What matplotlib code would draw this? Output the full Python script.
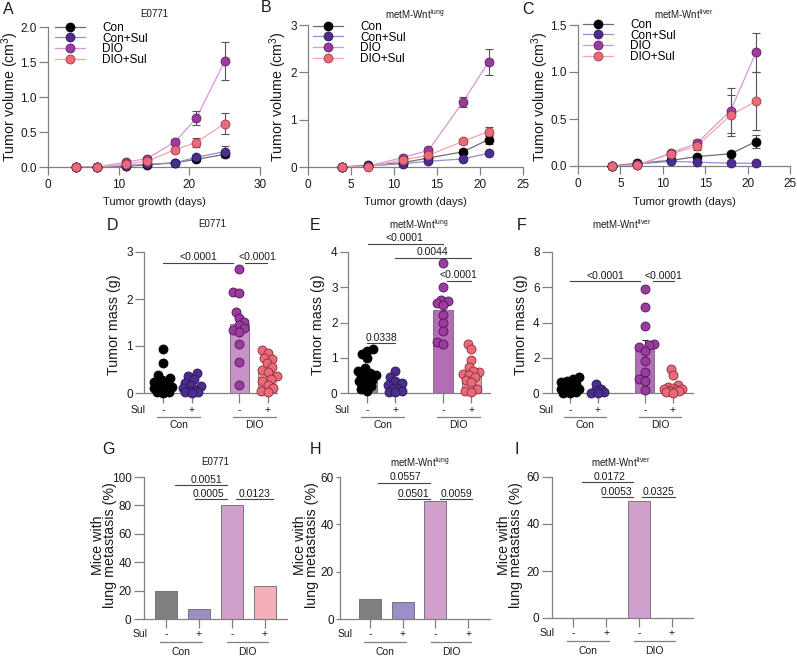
import numpy as np
import matplotlib
matplotlib.use("Agg")
import matplotlib.pyplot as plt
from matplotlib.lines import Line2D

plt.rcParams['font.family'] = ['Liberation Sans', 'DejaVu Sans']
plt.rcParams['mathtext.default'] = 'regular'

# ---------------- data ----------------
series_names = ['Con', 'Con+Sul', 'DIO', 'DIO+Sul']
groups = ['Con', 'DIO']
sul_signs = ['-', '+', '-', '+']

# A: E0771 tumour growth (cm3)
days_a = [4, 7, 11, 14, 18, 21, 25]
a_con = [0.0, 0.0, 0.01, 0.03, 0.06, 0.11, 0.18]
a_consul = [0.0, 0.0, 0.02, 0.04, 0.06, 0.14, 0.22]
a_dio = [0.0, 0.0, 0.07, 0.12, 0.36, 0.70, 1.51]
a_diosul = [0.0, 0.0, 0.04, 0.08, 0.25, 0.35, 0.62]
a_con_err = [0, 0, 0.005, 0.01, 0.01, 0.02, 0.03]
a_consul_err = [0, 0, 0.01, 0.01, 0.01, 0.03, 0.08]
a_dio_err = [0, 0, 0.02, 0.03, 0.04, 0.10, 0.27]
a_diosul_err = [0, 0, 0.01, 0.02, 0.04, 0.07, 0.15]

# B: metM-Wnt lung tumour growth
days_b = [4, 7, 11, 14, 18, 21]
b_con = [0.0, 0.04, 0.09, 0.19, 0.32, 0.58]
b_consul = [0.0, 0.02, 0.07, 0.12, 0.17, 0.29]
b_dio = [0.0, 0.02, 0.20, 0.35, 1.37, 2.22]
b_diosul = [0.0, 0.01, 0.15, 0.25, 0.54, 0.75]
b_con_err = [0, 0.01, 0.02, 0.03, 0.05, 0.10]
b_consul_err = [0, 0.01, 0.01, 0.02, 0.03, 0.04]
b_dio_err = [0, 0.01, 0.03, 0.05, 0.10, 0.28]
b_diosul_err = [0, 0.01, 0.02, 0.04, 0.06, 0.10]

# C: metM-Wnt liver tumour growth
days_c = [4, 7, 11, 14, 18, 21]
c_con = [0.0, 0.03, 0.06, 0.10, 0.13, 0.26]
c_consul = [0.0, 0.02, 0.05, 0.04, 0.03, 0.03]
c_dio = [0.0, 0.01, 0.14, 0.24, 0.59, 1.21]
c_diosul = [0.0, 0.01, 0.13, 0.21, 0.54, 0.69]
c_con_err = [0, 0.01, 0.01, 0.02, 0.02, 0.07]
c_consul_err = [0, 0.005, 0.01, 0.01, 0.01, 0.01]
c_dio_err = [0, 0.01, 0.02, 0.04, 0.24, 0.21]
c_diosul_err = [0, 0.01, 0.02, 0.04, 0.22, 0.31]

# D-F: tumour mass (g), individual mice
d_con = [0.93, 0.64, 0.38, 0.32, 0.28, 0.24, 0.2, 0.16, 0.12, 0.1, 0.07, 0.05, 0.03, 0.02, 0.0]
d_consul = [0.42, 0.36, 0.30, 0.22, 0.18, 0.14, 0.10, 0.07, 0.05, 0.03, 0.02, 0.01]
d_dio = [2.64, 2.15, 2.12, 1.72, 1.6, 1.52, 1.45, 1.38, 1.35, 1.3, 1.05, 0.65, 0.16]
d_diosul = [0.91, 0.86, 0.75, 0.72, 0.63, 0.55, 0.5, 0.45, 0.36, 0.3, 0.25, 0.18, 0.1, 0.05, 0.03]

e_con = [1.25, 1.2, 1.1, 1.0, 0.7, 0.62, 0.58, 0.52, 0.48, 0.42, 0.38, 0.33, 0.28, 0.2, 0.12, 0.05]
e_consul = [0.62, 0.45, 0.35, 0.28, 0.22, 0.15, 0.1, 0.06, 0.03, 0.02]
e_dio = [3.7, 3.0, 2.65, 2.6, 2.55, 2.5, 2.2, 2.0, 1.75, 1.45, 1.4]
e_diosul = [1.4, 1.25, 0.95, 0.75, 0.6, 0.62, 0.55, 0.5, 0.45, 0.38, 0.3, 0.1, 0.05, 0.02]

f_con = [0.9, 0.8, 0.7, 0.6, 0.5, 0.4, 0.3, 0.25, 0.2, 0.15, 0.1, 0.05, 0.02, 0.0]
f_consul = [0.5, 0.25, 0.12, 0.05, 0.02, 0.0]
f_dio = [5.9, 4.9, 3.8, 2.8, 2.7, 2.6, 2.4, 1.8, 1.2, 0.8, 0.7, 0.15]
f_diosul = [1.35, 1.0, 0.45, 0.35, 0.3, 0.25, 0.2, 0.15, 0.12, 0.1, 0.05, 0.02]

# G-I: mice with lung metastasis (%)
g_pct = [20, 6.7, 80, 23]
h_pct = [8.3, 7.1, 50, 0]
i_pct = [0, 0, 50, 0]

# p values
d_pvals = ['<0.0001', '<0.0001']
e_pvals = ['<0.0001', '0.0044', '<0.0001', '0.0338']
f_pvals = ['<0.0001', '<0.0001']
g_pvals = ['0.0051', '0.0005', '0.0123']
h_pvals = ['0.0557', '0.0501', '0.0059']
i_pvals = ['0.0172', '0.0053', '0.0325']

# ---------------- style ----------------
W, H = 797, 656
AX = '#808080'
TXT = '#1a1a1a'
FS = 7.5
TFS = 8.5
MCOL = ['#000000', '#4b2c8f', '#9a3b9f', '#e96b79']
MEDGE = ['#000000', '#2a1750', '#4f1552', '#8c2c3a']
LCOL = ['#6e6e6e', '#9a8ad0', '#d49ad6', '#f4a5ae']

fig = plt.figure(figsize=(W / 100, H / 100), dpi=100)


def add_ax(l, t, r, b, ytick_len=6.5):
    ax = fig.add_axes([l / W, 1 - b / H, (r - l) / W, (b - t) / H])
    for s in ['top', 'right']:
        ax.spines[s].set_visible(False)
    for s in ['left', 'bottom']:
        ax.spines[s].set_color(AX)
        ax.spines[s].set_linewidth(0.9)
    ax.tick_params(colors=AX, labelcolor=TXT, labelsize=TFS, width=0.9)
    ax.tick_params(axis='y', length=ytick_len, pad=1.5)
    ax.tick_params(axis='x', length=6, pad=2.5)
    return ax


def ftext(x, y, s, **kw):
    kw.setdefault('color', TXT)
    fig.text(x / W, 1 - y / H, s, **kw)


def growth(box, days, vals, errs, ymax, yticks, yfmt, xmax, xticks, leg_xy):
    ax = add_ax(*box)
    for v, e, mc, me, lc in zip(vals, errs, MCOL, MEDGE, LCOL):
        ax.plot(days, v, '-', color=lc, lw=0.9, zorder=2)
        ax.errorbar(days, v, yerr=e, fmt='none', ecolor='#555555', elinewidth=0.8,
                    capsize=3, capthick=0.8, zorder=3)
        ax.plot(days, v, 'o', ms=6.5, mfc=mc, mec=me, mew=0.5, zorder=4, clip_on=False)
    ax.set_xlim(0, xmax)
    ax.set_ylim(0, ymax)
    ax.set_yticks(yticks)
    ax.set_yticklabels([yfmt.format(t) for t in yticks])
    ax.set_xticks(xticks)
    handles = [Line2D([], [], color=lc, lw=0.9, marker='o', ms=6.5, mfc=mc, mec=me, mew=0.5)
               for mc, me, lc in zip(MCOL, MEDGE, LCOL)]
    ax.legend(handles, series_names, loc='upper left', frameon=False, fontsize=8.5,
              bbox_to_anchor=(leg_xy[0] / W, 1 - leg_xy[1] / H), bbox_transform=fig.transFigure,
              borderpad=0, borderaxespad=0, labelspacing=-0.12, handlelength=2.5,
              handletextpad=1.5)
    return ax


def swarm(vals, ppx, ppy, d=6.5, maxw=9.0):
    vals = np.asarray(vals, float)
    ys = vals * ppy
    px, py = [], []
    out = np.zeros(len(vals))
    for i in np.argsort(vals):
        y = ys[i]
        cands = [0.0]
        for xx, yy in zip(px, py):
            dy = abs(y - yy)
            if dy < d:
                dx = np.sqrt(d * d - dy * dy)
                cands += [xx - dx, xx + dx]
        cands.sort(key=abs)
        best = None
        for c in cands:
            if abs(c) > maxw:
                continue
            if all((c - xx) ** 2 + (y - yy) ** 2 >= d * d - 1e-6 for xx, yy in zip(px, py)):
                best = c
                break
        if best is None:
            grid = np.linspace(-maxw, maxw, 19)
            score = [min((g - xx) ** 2 + (y - yy) ** 2 for xx, yy in zip(px, py)) for g in grid]
            best = grid[int(np.argmax(score))]
        px.append(best)
        py.append(y)
        out[i] = best / ppx
    return out


def px_scale(ax):
    p0 = ax.transData.transform((0, 0))
    p1 = ax.transData.transform((1, 1))
    return p1[0] - p0[0], p1[1] - p0[1]


def sul_rows(ax, pos, hpx, lab_off, line_off, grp_off, spans, sul_dx):
    tr = ax.get_xaxis_transform()
    ax.set_xticks(pos)
    ax.set_xticklabels([])
    for p, s in zip(pos, sul_signs):
        ax.text(p, -lab_off / hpx, s, transform=tr, ha='center', va='center', fontsize=FS, color=TXT)
    ax.text(pos[0] + sul_dx, -lab_off / hpx, 'Sul', transform=tr, ha='right', va='center',
            fontsize=FS, color=TXT)
    for (a, b), g in zip(spans, groups):
        ax.plot([a, b], [-line_off / hpx] * 2, transform=tr, color=AX, lw=0.9, clip_on=False)
        ax.text((a + b) / 2, -grp_off / hpx, g, transform=tr, ha='center', va='center',
                fontsize=FS, color=TXT)


def sig(ax, x1, x2, y, label, tx):
    ax.plot([x1, x2], [y, y], color='#444444', lw=0.8, clip_on=False, zorder=5)
    ax.annotate(label, (tx, y), xytext=(0, 0.3), textcoords='offset points', ha='center',
                va='bottom', fontsize=FS, color=TXT, annotation_clip=False)


def mass(box, xlim, data, ymax, yticks, bar_cols, ytick_len):
    ax = add_ax(*box, ytick_len=ytick_len)
    ax.tick_params(axis='x', length=7)
    pos = [0, 1, 2.67, 3.67]
    ax.set_xlim(*xlim)
    ax.set_ylim(0, ymax)
    ax.set_yticks(yticks)
    ppx, ppy = px_scale(ax)
    means = [np.mean(g) for g in data]
    sems = [np.std(g, ddof=1) / np.sqrt(len(g)) for g in data]
    ax.bar(pos, means, width=0.67, color=bar_cols, edgecolor='#5a5a5a', lw=0.5, zorder=1)
    ax.errorbar(pos, means, yerr=sems, fmt='none', ecolor='#333333', elinewidth=0.8,
                capsize=2.5, capthick=0.8, zorder=2)
    for p, g, mc, me in zip(pos, data, MCOL, MEDGE):
        off = swarm(g, ppx, ppy)
        ax.scatter(p + off, g, s=42, c=mc, edgecolors=me, linewidths=0.6, zorder=3, clip_on=False)
    sul_rows(ax, pos, box[3] - box[1], 17, 24, 32,
             [(pos[0] - 0.2, pos[1] + 0.3), (pos[2] - 0.2, pos[3] + 0.3)], -0.6)
    return ax


def meta(box, xlim, pct, ymax, yticks, ytick_len):
    ax = add_ax(*box, ytick_len=ytick_len)
    ax.tick_params(axis='x', length=6.5)
    pos = [0, 1, 2, 3]
    ax.set_xlim(*xlim)
    ax.set_ylim(0, ymax)
    ax.set_yticks(yticks)
    ax.bar(pos, pct, width=0.67, color=['#7f7f7f', '#9c8ec6', '#d1a0cc', '#f4b0ba'],
           edgecolor='#666666', lw=0.6, zorder=1)
    sul_rows(ax, pos, box[3] - box[1], 15, 23, 33,
             [(pos[0] - 0.18, pos[1] + 0.1), (pos[2] - 0.15, pos[3] + 0.1)], -0.55)
    return ax


# ---------------- top row: growth curves ----------------
growth((48, 27, 260, 167), days_a, [a_con, a_consul, a_dio, a_diosul],
       [a_con_err, a_consul_err, a_dio_err, a_diosul_err],
       2.0, [0, 0.5, 1.0, 1.5, 2.0], '{:.1f}', 30, [0, 10, 20, 30], (55, 22))
growth((308, 25, 523, 167), days_b, [b_con, b_consul, b_dio, b_diosul],
       [b_con_err, b_consul_err, b_dio_err, b_diosul_err],
       3, [0, 1, 2, 3], '{:.0f}', 25, [0, 5, 10, 15, 20, 25], (313, 21))
growth((578, 25, 790, 166), days_c, [c_con, c_consul, c_dio, c_diosul],
       [c_con_err, c_consul_err, c_dio_err, c_diosul_err],
       1.5, [0, 0.5, 1.0, 1.5], '{:.1f}', 25, [0, 5, 10, 15, 20, 25], (583, 19))

for cx, ylx in [(154, 10.5), (415, 278), (684, 540)]:
    ftext(cx, 202, 'Tumor growth (days)', ha='center', va='center', fontsize=8)
    ftext(ylx, 97, 'Tumor volume (cm$^3$)', ha='center', va='center', rotation=90, fontsize=10.3)

# ---------------- middle row: tumour mass ----------------
axd = mass((144, 252, 277, 393), (-0.667, 4.0), [d_con, d_consul, d_dio, d_diosul], 3, [0, 1, 2, 3],
           ['#8a8a8a', '#7e6db5', '#c892c9', '#f3a7b2'], 6.5)
for (x1, x2, y, tx), p in zip([(0, 2.46, 2.77, 1.26), (2.88, 3.65, 2.77, 3.30)], d_pvals):
    sig(axd, x1, x2, y, p, tx)

axe = mass((348, 252, 490, 393), (-0.667, 4.32), [e_con, e_consul, e_dio, e_diosul], 4, [0, 1, 2, 3, 4],
           ['#8a8a8a', '#7e6db5', '#b36cb6', '#f09aa6'], 6)
for (x1, x2, y, tx), p in zip([(0.03, 2.67, 4.24, 1.33), (1.0, 3.65, 3.84, 2.3),
                               (2.8, 3.65, 3.19, 3.2), (0, 1.0, 1.41, 0.52)], e_pvals):
    sig(axe, x1, x2, y, p, tx)

axf = mass((552, 252, 693, 393), (-0.64, 4.39), [f_con, f_consul, f_dio, f_diosul], 8, [0, 2, 4, 6, 8],
           ['#8a8a8a', '#7e6db5', '#b36cb6', '#f09aa6'], 7.5)
for (x1, x2, y, tx), p in zip([(0, 2.5, 6.34, 1.25), (2.96, 3.71, 6.34, 3.32)], f_pvals):
    sig(axf, x1, x2, y, p, tx)

for ylx in [114, 318, 521]:
    ftext(ylx, 325, 'Tumor mass (g)', ha='center', va='center', rotation=90, fontsize=10.3)

# ---------------- bottom row: metastasis ----------------
axg = meta((144, 477, 287, 619), (-0.667, 3.67), g_pct, 100, [0, 20, 40, 60, 80, 100], 7.5)
for (x1, x2, y, tx), p in zip([(0.27, 1.85, 94.4, 1.24), (0.88, 1.85, 84.5, 1.3),
                               (2.12, 3.24, 84.5, 2.7)], g_pvals):
    sig(axg, x1, x2, y, p, tx)

axh = meta((340, 477, 490, 619), (-0.92, 3.67), h_pct, 60, [0, 20, 40, 60], 3)
for (x1, x2, y, tx), p in zip([(0.24, 1.83, 57.5, 1.07), (0.86, 1.83, 50.7, 1.32),
                               (2.14, 3.12, 50.7, 2.63)], h_pvals):
    sig(axh, x1, x2, y, p, tx)

axi = meta((552, 477, 693, 618), (-0.64, 3.64), i_pct, 60, [0, 20, 40, 60], 7.5)
for (x1, x2, y, tx), p in zip([(0.27, 1.82, 57.9, 1.12), (0.88, 1.82, 51.5, 1.33),
                               (2.09, 3.09, 51.5, 2.6)], i_pvals):
    sig(axi, x1, x2, y, p, tx)

for ylx in [104, 306, 510]:
    ftext(ylx, 545, 'Mice with\nlung metastasis (%)', ha='center', va='center', rotation=90,
          fontsize=10.3, linespacing=0.9)

# ---------------- titles and panel letters ----------------
titles = ['E0771', 'metM-Wnt$^{lung}$', 'metM-Wnt$^{liver}$']
for cx, t in zip([154, 415, 684], titles):
    ftext(cx, 14, t, ha='center', va='center', fontsize=7)
for cx, t in zip([212, 419, 622], titles):
    ftext(cx, 224, t, ha='center', va='center', fontsize=7)
for cx, t in zip([215, 420, 621], titles):
    ftext(cx, 462, t, ha='center', va='center', fontsize=7)

for (x, y), s in zip([(3, 9), (261, 8), (522, 9), (107, 225), (310, 225), (517, 225),
                      (102, 450), (310, 450), (515, 450)], 'ABCDEFGHI'):
    ftext(x, y, s, ha='left', va='center', fontsize=11.5)

fig.savefig('out.png', dpi=100)
